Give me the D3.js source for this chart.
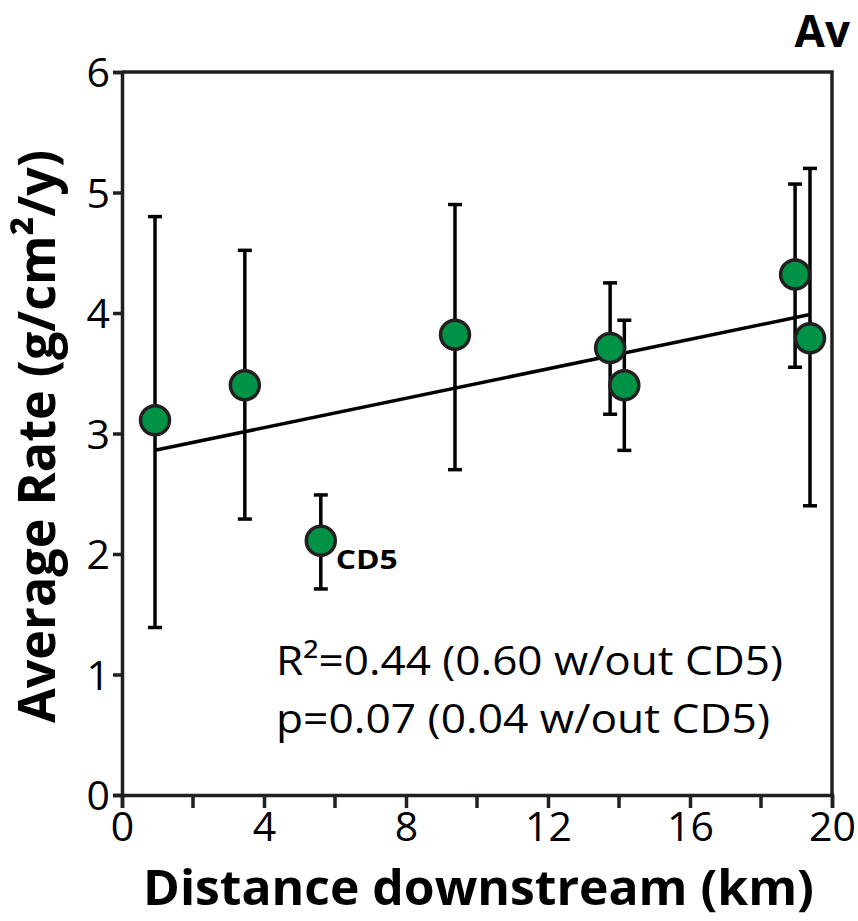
<!DOCTYPE html>
<html>
<head>
<meta charset="utf-8">
<script src="https://cdn.jsdelivr.net/npm/d3@7"></script>
<style>
  html, body { margin: 0; padding: 0; background: #fff; }
  svg { display: block; }
</style>
</head>
<body>
<svg id="chart" width="858" height="921"></svg>
<script>
// Sampling sites: distance downstream (km), average rate and error range (g/cm²/y)
const sites      = ["S1", "S2", "CD5", "S4", "S5", "S6", "S7", "S8"];
const distanceKm = [0.93, 3.46, 5.6, 9.38, 13.75, 14.15, 18.96, 19.38];
const avgRate    = [3.11, 3.40, 2.11, 3.82, 3.71, 3.40, 4.32, 3.79];
const rateHigh   = [4.80, 4.52, 2.49, 4.90, 4.25, 3.94, 5.07, 5.20];
const rateLow    = [1.39, 2.29, 1.71, 2.70, 3.16, 2.86, 3.55, 2.40];

const xTicks = [0, 4, 8, 12, 16, 20];
const xMinorTicks = [2, 6, 10, 14, 18];
const yTicks = [0, 1, 2, 3, 4, 5, 6];
const statsLines = ["R²=0.44 (0.60 w/out CD5)", "p=0.07 (0.04 w/out CD5)"];

const ink = "#231f20";
const green = "#009245";
const font = "'Open Sans', 'Noto Sans', sans-serif";

const svg = d3.select("#chart");

const x = d3.scaleLinear().domain([0, 20]).range([122, 832]);
const y = d3.scaleLinear().domain([0, 6]).range([795, 72]);

const points = sites.map((s, i) => ({
  site: s, d: distanceKm[i], r: avgRate[i], hi: rateHigh[i], lo: rateLow[i]
}));

// Least-squares fit over all sites
const mx = d3.mean(points, p => p.d), my = d3.mean(points, p => p.r);
const slope = d3.sum(points, p => (p.d - mx) * (p.r - my)) / d3.sum(points, p => (p.d - mx) ** 2);
const intercept = my - slope * mx;
const [dMin, dMax] = d3.extent(points, p => p.d);

// Frame box (top and right edges)
svg.append("path")
  .attr("d", `M${x(0)},${y(6)}H${x(20)}V${y(0)}`)
  .attr("fill", "none").attr("stroke", ink).attr("stroke-width", 3.5);

// Bottom axis
const xAxis = svg.append("g").attr("transform", `translate(0,${y(0)})`)
  .call(d3.axisBottom(x).tickValues(xTicks).tickSize(13).tickPadding(2).tickFormat(d3.format("d")));
xAxis.append("g").selectAll("line").data(xMinorTicks).join("line")
  .attr("x1", d => x(d)).attr("x2", d => x(d)).attr("y1", 0).attr("y2", 13)
  .attr("stroke", ink).attr("stroke-width", 3.5);

// Left axis
const yAxis = svg.append("g").attr("transform", `translate(${x(0)},0)`)
  .call(d3.axisLeft(y).tickValues(yTicks).tickSize(9).tickPadding(3).tickFormat(d3.format("d")));

[xAxis, yAxis].forEach(g => {
  g.select(".domain").attr("stroke", ink).attr("stroke-width", 3.5);
  g.selectAll(".tick line").attr("stroke", ink).attr("stroke-width", 3.5);
  g.selectAll(".tick text")
    .attr("fill", "#000").attr("font-family", font).attr("font-size", 41);
});
xAxis.selectAll(".tick text").attr("dy", "0.75em");
yAxis.selectAll(".tick text").attr("dy", "0.36em");

// Regression line
svg.append("line")
  .attr("x1", x(dMin)).attr("y1", y(intercept + slope * dMin))
  .attr("x2", x(dMax)).attr("y2", y(intercept + slope * dMax))
  .attr("stroke", "#000").attr("stroke-width", 3.5);

// Error bars
const bars = svg.append("g").selectAll("g").data(points).join("g")
  .attr("stroke", "#000").attr("stroke-width", 3.5);
bars.append("line")
  .attr("x1", p => x(p.d)).attr("x2", p => x(p.d))
  .attr("y1", p => y(p.hi)).attr("y2", p => y(p.lo));
bars.append("line")
  .attr("x1", p => x(p.d) - 7).attr("x2", p => x(p.d) + 7)
  .attr("y1", p => y(p.hi)).attr("y2", p => y(p.hi));
bars.append("line")
  .attr("x1", p => x(p.d) - 7).attr("x2", p => x(p.d) + 7)
  .attr("y1", p => y(p.lo)).attr("y2", p => y(p.lo));

// Site markers
svg.append("g").selectAll("circle").data(points).join("circle")
  .attr("cx", p => x(p.d)).attr("cy", p => y(p.r)).attr("r", 14.5)
  .attr("fill", green).attr("stroke", ink).attr("stroke-width", 3.5);

// Outlier label
const cd5 = points.find(p => p.site === "CD5");
svg.append("text")
  .attr("x", x(cd5.d) + 15).attr("y", y(cd5.r) + 28)
  .attr("font-family", font).attr("font-weight", 700).attr("font-size", 26)
  .attr("textLength", 62).attr("lengthAdjust", "spacingAndGlyphs")
  .text("CD5");

// Fit statistics
svg.append("g").selectAll("text").data(statsLines).join("text")
  .attr("x", 276).attr("y", (d, i) => 675 + i * 58)
  .attr("font-family", font).attr("font-size", 41)
  .attr("textLength", (d, i) => i === 0 ? 507 : 494)
  .attr("lengthAdjust", "spacingAndGlyphs")
  .text(d => d);

// Axis titles
svg.append("text")
  .attr("x", 143).attr("y", 905)
  .attr("font-family", font).attr("font-weight", 700).attr("font-size", 48)
  .attr("textLength", 671).attr("lengthAdjust", "spacingAndGlyphs")
  .text("Distance downstream (km)");

svg.append("text")
  .attr("transform", "translate(55,723) rotate(-90)")
  .attr("font-family", font).attr("font-weight", 700).attr("font-size", 52)
  .attr("textLength", 573).attr("lengthAdjust", "spacingAndGlyphs")
  .text("Average Rate (g/cm²/y)");

// Panel title
svg.append("text")
  .attr("x", 850).attr("y", 47).attr("text-anchor", "end")
  .attr("font-family", font).attr("font-weight", 700).attr("font-size", 44)
  .text("Av");
</script>
</body>
</html>
